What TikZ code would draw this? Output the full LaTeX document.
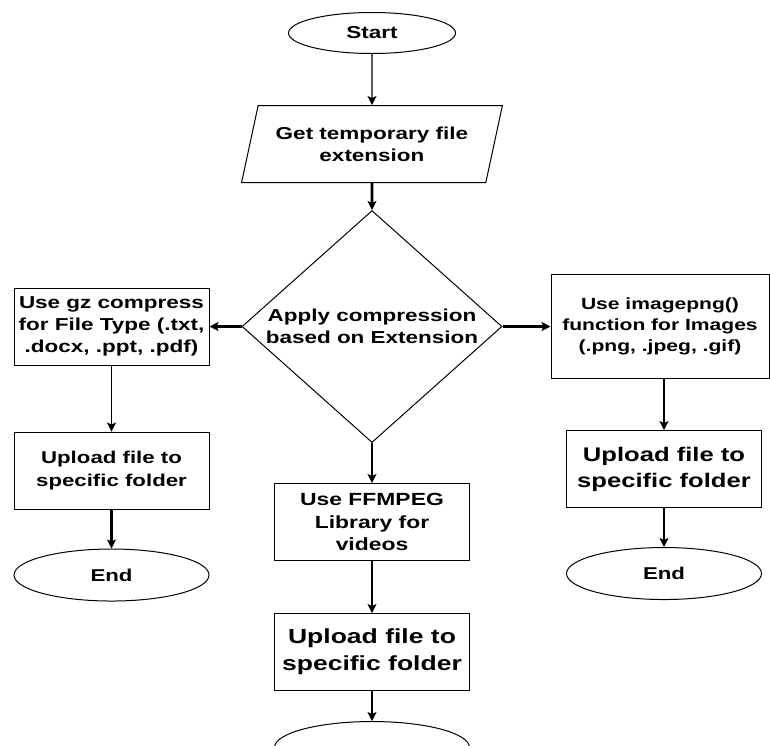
\documentclass[tikz,border=0pt]{standalone}
\usepackage{fontspec}
\setmainfont{Liberation Sans}[FakeStretch=1.3]
\usetikzlibrary{positioning, arrows.meta, shapes.geometric}
\tikzset{
    flowbox/.style={
        draw, rectangle, line width=1pt, align=center, inner sep=0pt,
        minimum width=195pt, minimum height=77pt
    },
    terminal/.style={
        draw, ellipse, line width=1pt, inner sep=0pt,
        minimum width=195pt, minimum height=52pt
    },
    decision/.style={
        draw, diamond, line width=1pt, aspect=1.12, inner sep=0pt, align=center,
        minimum width=260pt, minimum height=232pt
    },
    inputbox/.style={
        draw, trapezium, trapezium left angle=68, trapezium right angle=112,
        trapezium stretches=true, line width=1pt, inner sep=0pt, align=center,
        minimum width=261pt, minimum height=77pt
    },
    flowthin/.style={-{Stealth[length=9pt, width=9pt, inset=2pt]}, line width=1.2pt},
    flowthick/.style={flowthin, line width=2.6pt}
}

\begin{document}
\begin{tikzpicture}[every node/.style={font=\fontsize{17.3pt}{22pt}\selectfont\bfseries}]
    \clip (0pt,0pt) rectangle (770pt,-745pt);

    \node[terminal, minimum width=167pt, minimum height=41pt] (start) at (372pt,-33pt) {Start};
    \node[inputbox, below=51pt of start] (ext) {Get temporary file\\extension};
    \node[decision, below=27pt of ext] (apply) {Apply compression\\based on Extension};
    \node[flowbox, left=32pt of apply] (gz) {Use gz compress\\for File Type (.txt,\\.docx, .ppt, .pdf)};
    \node[flowbox, right=48pt of apply, minimum width=218pt, minimum height=104pt,
          font=\fontsize{16.2pt}{21pt}\selectfont\bfseries] (png) {Use imagepng()\\function for Images\\(.png, .jpeg, .gif)};
    \node[flowbox, below=40pt of apply, font=\fontsize{17.6pt}{22.5pt}\selectfont\bfseries] (ffmpeg) {Use FFMPEG\\Library for\\videos};
    \node[flowbox, below=52pt of ffmpeg, font=\fontsize{20.4pt}{27pt}\selectfont\bfseries] (upmid) {Upload file to\\specific folder};
    \node[terminal, below=30pt of upmid] (endmid) {};
    \node[flowbox, below=66pt of gz, font=\fontsize{17.1pt}{23pt}\selectfont\bfseries] (upleft) {Upload file to\\specific folder};
    \node[terminal, below=39pt of upleft, font=\fontsize{17.1pt}{22pt}\selectfont\bfseries] (endleft) {End};
    \node[flowbox, below=51pt of png, xshift=4pt, font=\fontsize{19.7pt}{26pt}\selectfont\bfseries] (upright) {Upload file to\\specific folder};
    \node[terminal, below=39pt of upright, font=\fontsize{17.1pt}{22pt}\selectfont\bfseries] (endright) {End};

    \draw[flowthin] (start) -- (ext);
    \draw[flowthick] (ext) -- (apply);
    \draw[flowthick] (apply) -- (gz);
    \draw[flowthick] (apply) -- (png);
    \draw[flowthick] (apply) -- (ffmpeg);
    \draw[flowthin] (ffmpeg) -- (upmid);
    \draw[flowthick] (upmid) -- (endmid);
    \draw[flowthin] (gz) -- (upleft);
    \draw[flowthick] (upleft) -- (endleft);
    \draw[flowthin] (png.south -| upright.north) -- (upright);
    \draw[flowthick] (upright) -- (endright);
\end{tikzpicture}
\end{document}
